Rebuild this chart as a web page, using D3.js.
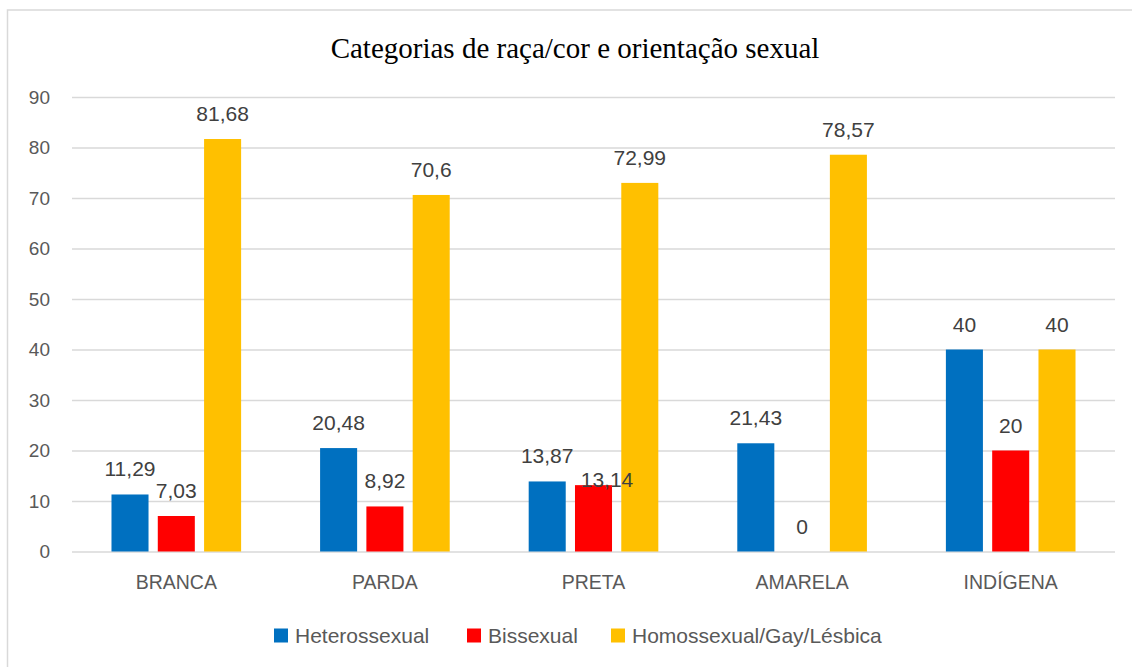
<!DOCTYPE html>
<html>
<head>
<meta charset="utf-8">
<script src="https://cdn.jsdelivr.net/npm/d3@7"></script>
<style>
  html, body { margin: 0; padding: 0; background: #fff; }
  svg { display: block; }
</style>
</head>
<body>
<svg id="chart" width="1132" height="667"></svg>
<script>
const title = "Categorias de raça/cor e orientação sexual";
const categories = ["BRANCA", "PARDA", "PRETA", "AMARELA", "INDÍGENA"];
const seriesNames = ["Heterossexual", "Bissexual", "Homossexual/Gay/Lésbica"];
const heterossexual = [11.29, 20.48, 13.87, 21.43, 40];
const bissexual = [7.03, 8.92, 13.14, 0, 20];
const homossexual = [81.68, 70.6, 72.99, 78.57, 40];
const yTicks = [0, 10, 20, 30, 40, 50, 60, 70, 80, 90];

const seriesValues = [heterossexual, bissexual, homossexual];
const colors = ["#0070C0", "#FF0000", "#FFC000"];

const W = 1132, H = 667;
const margin = { left: 72, right: 17, top: 97, bottom: 115.5 };
const svg = d3.select("#chart");

// outer border
svg.append("rect")
  .attr("x", 7.5).attr("y", 10)
  .attr("width", W).attr("height", H)
  .attr("fill", "none").attr("stroke", "#D9D9D9").attr("stroke-width", 1.5);

const x0 = d3.scaleBand().domain(categories).range([margin.left, W - margin.right]).padding(0);
const x1 = d3.scaleBand().domain(seriesNames).range([0, x0.bandwidth()])
  .paddingInner(0.2).paddingOuter(0.853);
const y = d3.scaleLinear().domain([0, 90]).range([H - margin.bottom, margin.top]);

// title
svg.append("text")
  .attr("x", 575).attr("y", 57.5)
  .attr("text-anchor", "middle")
  .attr("font-family", "'Liberation Serif', 'Times New Roman', serif")
  .attr("font-size", 29)
  .attr("fill", "#000")
  .text(title);

// y axis with gridlines
const yAxis = d3.axisLeft(y).tickValues(yTicks).tickSize(-(W - margin.right - margin.left)).tickPadding(22).tickFormat(d3.format("d"));
const gy = svg.append("g").attr("transform", `translate(${margin.left},0)`).call(yAxis);
gy.select(".domain").remove();
gy.selectAll(".tick line").attr("stroke", "#D9D9D9").attr("stroke-width", 1.5);
gy.selectAll(".tick text")
  .attr("font-family", "'Liberation Sans', Arial, sans-serif")
  .attr("font-size", 19)
  .attr("fill", "#595959");

// x axis labels
const xAxis = d3.axisBottom(x0).tickSize(0).tickPadding(24);
const gx = svg.append("g").attr("transform", `translate(0,${y(0)})`).call(xAxis);
gx.select(".domain").remove();
gx.selectAll(".tick text")
  .attr("font-family", "'Liberation Sans', Arial, sans-serif")
  .attr("font-size", 19.5)
  .attr("fill", "#595959");

// bars
const rows = [];
categories.forEach((c, i) => {
  seriesNames.forEach((s, j) => {
    rows.push({ cat: c, series: s, j: j, value: seriesValues[j][i] });
  });
});

svg.append("g").selectAll("rect").data(rows).join("rect")
  .attr("x", d => x0(d.cat) + x1(d.series))
  .attr("y", d => y(d.value))
  .attr("width", x1.bandwidth())
  .attr("height", d => y(0) - y(d.value))
  .attr("fill", d => colors[d.j]);

// data labels (one label was displaced in the original layout)
const nudge = { "PRETA|Bissexual": [13.5, 19.5] };
const fmt = v => String(v).replace(".", ",");
svg.append("g").selectAll("text").data(rows).join("text")
  .attr("x", d => x0(d.cat) + x1(d.series) + x1.bandwidth() / 2 + ((nudge[d.cat + "|" + d.series] || [0, 0])[0]))
  .attr("y", d => y(d.value) - 18 + ((nudge[d.cat + "|" + d.series] || [0, 0])[1]))
  .attr("text-anchor", "middle")
  .attr("font-family", "'Liberation Sans', Arial, sans-serif")
  .attr("font-size", 21)
  .attr("fill", "#404040")
  .text(d => fmt(d.value));

// legend
const legendX = [274, 467, 611];
const lg = svg.append("g");
seriesNames.forEach((s, j) => {
  lg.append("rect")
    .attr("x", legendX[j]).attr("y", 628.5)
    .attr("width", 14).attr("height", 14)
    .attr("fill", colors[j]);
  lg.append("text")
    .attr("x", legendX[j] + 21).attr("y", 643)
    .attr("font-family", "'Liberation Sans', Arial, sans-serif")
    .attr("font-size", 21)
    .attr("fill", "#595959")
    .text(s);
});
</script>
</body>
</html>
